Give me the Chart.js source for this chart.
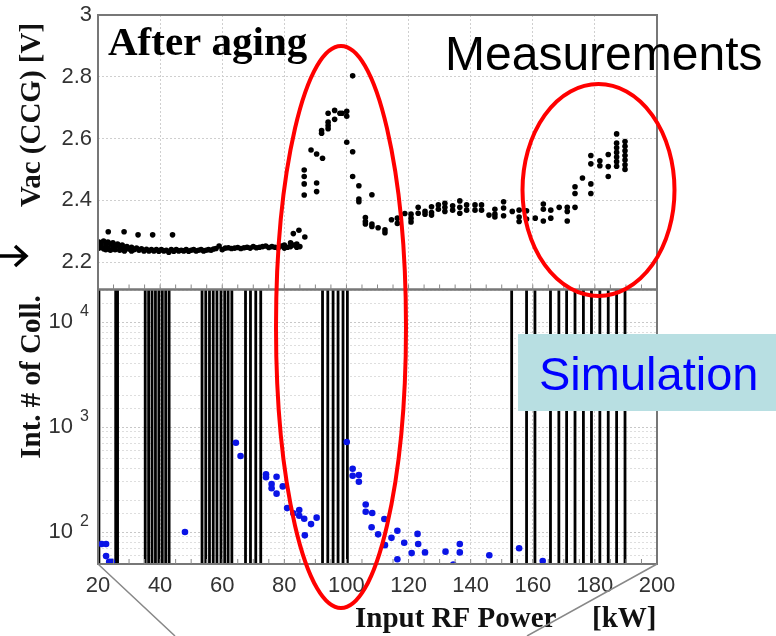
<!DOCTYPE html>
<html>
<head>
<meta charset="utf-8">
<script src="https://cdn.jsdelivr.net/npm/chart.js@4.4.1/dist/chart.umd.min.js"></script>
<style>
  html, body { margin: 0; padding: 0; background: #fff; }
  #wrap { position: relative; width: 776px; height: 636px; }
</style>
</head>
<body>
<div id="wrap"><canvas id="chart_vacAndCollisions" width="776" height="636"></canvas></div>
<script>
// measured vacuum (CCG) vs input RF power
var vacPower = [
  20.3, 20.3, 21.0, 21.0, 21.8, 21.8, 22.5, 22.5, 23.2, 23.2, 23.3, 24.0, 24.0, 24.8, 24.8,
  25.5, 25.5, 26.3, 27.0, 27.0, 27.8, 28.4, 28.5, 28.5, 29.3, 30.0, 30.8, 30.8, 31.6, 32.4,
  32.9, 33.2, 34.0, 34.8, 35.6, 36.4, 37.2, 37.6, 38.0, 38.8, 39.6, 40.4, 41.2, 42.0, 42.8,
  43.6, 44.0, 44.4, 45.2, 46.0, 46.8, 47.6, 48.4, 49.2, 50.0, 50.8, 51.6, 52.4, 53.2, 54.0,
  54.8, 55.6, 56.4, 57.2, 58.0, 59.0, 60.0, 61.0, 62.0, 63.0, 64.0, 65.0, 66.0, 67.0, 68.0,
  69.0, 70.0, 71.0, 72.0, 73.0, 74.0, 75.0, 76.0, 77.0, 78.0, 79.0, 80.0, 80.0, 81.0, 82.0,
  82.0, 82.9, 83.0, 84.0, 84.0, 84.7, 85.0, 86.6,
  86.4, 86.4, 86.4, 86.4, 88.6, 90.4, 90.4, 90.4, 92.0, 92.0, 92.3, 94.1, 94.1, 94.1, 94.1,
  96.2, 96.2, 97.9, 98.6, 100.1, 100.1, 100.1, 102.0, 102.0, 102.0, 104.0, 104.0, 104.0,
  106.1, 106.1, 106.1, 108.2, 108.2, 108.2, 110.2, 112.4, 112.4, 114.5, 116.4, 116.4, 118.8,
  120.8, 120.8, 120.8, 123.1, 123.1, 125.3, 125.3, 127.4, 127.4, 127.4, 129.6, 129.6,
  131.7, 131.7, 131.7, 134.2, 134.2, 136.5, 136.5, 136.5, 138.7, 138.7, 141.4, 141.4,
  143.5, 143.5, 145.9, 147.8, 147.8, 147.8, 150.6, 150.6, 150.6, 153.4, 155.6, 155.6, 155.6,
  158.0, 158.0, 160.8, 163.4, 163.4, 163.4, 165.8, 165.8, 168.5, 171.1, 171.1, 171.1,
  173.6, 173.6, 173.6, 176.0, 178.7, 178.7, 178.7, 178.7, 181.6, 181.6, 184.3, 184.3, 184.3,
  187.0, 187.0, 187.0, 187.0, 187.0, 187.0, 187.0,
  189.7, 189.7, 189.7, 189.7, 189.7, 189.7, 189.7
];
var vacValues = [
  2.265, 2.245, 2.262, 2.250, 2.268, 2.243, 2.255, 2.240, 2.265, 2.245, 2.298, 2.258, 2.238, 2.262, 2.245,
  2.250, 2.240, 2.258, 2.248, 2.238, 2.255, 2.298, 2.245, 2.236, 2.250, 2.242, 2.248, 2.236, 2.240, 2.245,
  2.288, 2.238, 2.243, 2.236, 2.241, 2.236, 2.240, 2.288, 2.236, 2.240, 2.235, 2.240, 2.236, 2.238, 2.232,
  2.240, 2.288, 2.235, 2.240, 2.236, 2.238, 2.236, 2.240, 2.235, 2.238, 2.240, 2.236, 2.238, 2.240, 2.236,
  2.238, 2.240, 2.238, 2.242, 2.244, 2.252, 2.240, 2.245, 2.246, 2.244, 2.245, 2.247, 2.244, 2.246, 2.248,
  2.245, 2.250, 2.246, 2.248, 2.250, 2.252, 2.247, 2.250, 2.248, 2.245, 2.252, 2.255, 2.245, 2.248, 2.262,
  2.250, 2.292, 2.255, 2.258, 2.248, 2.303, 2.250, 2.281,
  2.498, 2.477, 2.453, 2.417, 2.563, 2.550, 2.456, 2.428, 2.626, 2.617, 2.536, 2.682, 2.653, 2.642, 2.632,
  2.691, 2.662, 2.682, 2.682, 2.688, 2.672, 2.588, 2.803, 2.557, 2.477, 2.447, 2.404, 2.395,
  2.344, 2.331, 2.323, 2.418, 2.323, 2.315, 2.311, 2.304, 2.295, 2.337, 2.342, 2.325, 2.357,
  2.355, 2.342, 2.330, 2.377, 2.358, 2.364, 2.355, 2.379, 2.360, 2.352, 2.385, 2.371,
  2.390, 2.377, 2.364, 2.382, 2.368, 2.398, 2.377, 2.358, 2.385, 2.368, 2.385, 2.368,
  2.385, 2.368, 2.352, 2.371, 2.355, 2.346, 2.395, 2.375, 2.350, 2.364, 2.368, 2.346, 2.331,
  2.366, 2.339, 2.342, 2.388, 2.371, 2.333, 2.368, 2.342, 2.377, 2.377, 2.364, 2.333,
  2.444, 2.422, 2.377, 2.472, 2.545, 2.518, 2.453, 2.422, 2.528, 2.512, 2.548, 2.509, 2.477,
  2.615, 2.585, 2.570, 2.555, 2.540, 2.525, 2.510,
  2.590, 2.575, 2.560, 2.545, 2.530, 2.515, 2.500
];

// simulated integrated number of collisions
var collPower = [
  21.2, 22.6, 22.6, 23.6, 24.5, 48.0, 64.4, 65.9, 74.1, 74.1, 75.9, 75.9, 77.5, 77.5, 79.5,
  80.9, 82.9, 84.8, 84.8, 86.4, 86.6, 88.6, 90.4, 100.1, 102.0, 102.0, 104.0, 104.0, 106.2,
  106.2, 108.3, 108.1, 110.2, 112.2, 112.4, 114.5, 116.4, 116.4, 118.6, 121.0, 122.9, 123.1,
  125.3, 131.9, 134.4, 136.5, 136.5, 146.0, 155.6, 163.2
];
var collValues = [
  77, 77, 59, 52, 52, 100, 708, 530, 355, 333, 286, 261, 232, 336, 272,
  169, 151, 162, 143, 134, 93, 119, 137, 719, 401, 344, 349, 301, 183,
  156, 152, 111, 95, 133, 75, 88, 103, 55, 79, 63, 96, 77,
  64, 65, 49, 77, 64, 60, 70, 53
];

// power levels where the simulation finds resonant multipactor (vertical bars)
var multipactorPower = [
  20.3, 25.7, 26.3,
  35.2, 36.3, 37.4, 38.5, 39.6, 40.7, 41.8, 42.9,
  53.5, 54.7, 55.9, 57.1, 58.3, 59.6, 60.8, 61.9, 63.1,
  67.5, 69.1, 70.8, 72.4,
  92.3, 94.0, 95.7, 97.3, 98.9, 100.3,
  153.2, 158.0, 160.7, 165.7, 168.4, 170.9, 173.6, 176.3, 178.9, 181.6, 184.3, 187.0, 189.7
];

var powerTicks = [20, 40, 60, 80, 100, 120, 140, 160, 180, 200];
var vacTicks = [2.2, 2.4, 2.6, 2.8, 3];
var collDecades = [100, 1000, 10000];

var VAC_MIN = 2.111, VAC_MAX = 3;
var COLL_MIN = 49.6, COLL_MAX = 20400;

var sans = '"Liberation Sans", Arial, sans-serif';
var serif = '"Liberation Serif", "Times New Roman", serif';

var barData = [];
multipactorPower.forEach(function (p) {
  barData.push({ x: p, y: COLL_MIN }, { x: p, y: COLL_MAX }, { x: p, y: null });
});

// keep the plot box fixed: no extra room for label overflow
function noPad(s) {
  s.paddingTop = 0; s.paddingBottom = 0; s.paddingLeft = 0; s.paddingRight = 0;
}

var chart_vacAndCollisions = new Chart(document.getElementById('chart_vacAndCollisions'), {
  type: 'scatter',
  data: {
    datasets: [
      {
        label: 'Multipactor bands',
        type: 'line',
        yAxisID: 'yBot',
        data: barData,
        borderColor: '#000',
        borderWidth: 2.8,
        pointRadius: 0,
        spanGaps: false,
        order: 3
      },
      {
        label: 'Int. # of Coll.',
        yAxisID: 'yBot',
        data: collPower.map(function (p, i) { return { x: p, y: collValues[i] }; }),
        backgroundColor: '#0a14e6',
        borderWidth: 0,
        pointRadius: 3.3,
        order: 2
      },
      {
        label: 'Vac (CCG)',
        yAxisID: 'yTop',
        data: vacPower.map(function (p, i) { return { x: p, y: vacValues[i] }; }),
        backgroundColor: '#000',
        borderWidth: 0,
        pointRadius: 2.8,
        order: 1
      }
    ]
  },
  options: {
    animation: false,
    responsive: false,
    devicePixelRatio: 1,
    layout: { padding: { left: 0, top: 15, right: 119, bottom: 0 } },
    plugins: {
      legend: { display: false },
      tooltip: { enabled: false }
    },
    scales: {
      x: {
        type: 'linear',
        min: 20,
        max: 200,
        afterBuildTicks: function (s) { s.ticks = powerTicks.map(function (v) { return { value: v }; }); },
        afterFit: function (s) { s.height = 72; noPad(s); },
        ticks: { font: { family: sans, size: 22 }, color: '#333', padding: 9, maxRotation: 0 },
        grid: { color: '#cfcfcf', lineWidth: 1, drawTicks: false },
        border: { display: false, dash: [2, 2] }
      },
      // stacked scales are placed bottom-up in the order given
      yBot: {
        type: 'logarithmic',
        position: 'left',
        stack: 'plots',
        stackWeight: 1,
        min: COLL_MIN,
        max: COLL_MAX,
        afterFit: function (s) { s.width = 98; noPad(s); },
        ticks: {
          font: { family: sans, size: 22 },
          color: '#333',
          padding: 25,
          autoSkip: false,
          callback: function (value) {
            return collDecades.indexOf(value) >= 0 ? '10' : '';
          }
        },
        grid: {
          color: function (c) { return collDecades.indexOf(c.tick && c.tick.value) >= 0 ? '#c8c8c8' : '#dedede'; },
          lineWidth: 1,
          drawTicks: false
        },
        border: { display: false, dash: [2, 2] }
      },
      yTop: {
        type: 'linear',
        position: 'left',
        stack: 'plots',
        stackWeight: 1,
        min: VAC_MIN,
        max: VAC_MAX,
        afterBuildTicks: function (s) { s.ticks = vacTicks.map(function (v) { return { value: v }; }); },
        afterFit: function (s) { s.width = 98; noPad(s); },
        ticks: {
          font: { family: sans, size: 22 },
          color: '#333',
          padding: 6,
          callback: function (value) { return String(Math.round(value * 10) / 10); }
        },
        grid: { color: '#cfcfcf', lineWidth: 1, drawTicks: false },
        border: { display: false, dash: [2, 2] }
      }
    }
  },
  plugins: [{
    id: 'slideDecorations',
    beforeDraw: function (chart) {
      var ctx = chart.ctx;
      ctx.save();
      ctx.fillStyle = 'white';
      ctx.fillRect(0, 0, chart.width, chart.height);
      ctx.restore();
    },
    afterDraw: function (chart) {
      var ctx = chart.ctx;
      var x = chart.scales.x, yTop = chart.scales.yTop, yBot = chart.scales.yBot;
      ctx.save();

      // plot frames
      ctx.strokeStyle = '#777';
      ctx.lineWidth = 2;
      ctx.strokeRect(x.left, yTop.top, x.right - x.left, yTop.bottom - yTop.top);
      ctx.strokeRect(x.left, yBot.top, x.right - x.left, yBot.bottom - yBot.top);

      // minor ticks every 5 kW
      ctx.lineWidth = 1;
      ctx.strokeStyle = '#888';
      for (var p = 25; p < 200; p += 5) {
        var px = x.getPixelForValue(p);
        ctx.beginPath();
        ctx.moveTo(px, yTop.bottom); ctx.lineTo(px, yTop.bottom - 5);
        ctx.moveTo(px, yBot.bottom); ctx.lineTo(px, yBot.bottom - 5);
        ctx.stroke();
      }

      // exponents of the log labels
      ctx.fillStyle = '#333';
      ctx.font = '16px ' + sans;
      ctx.textAlign = 'left';
      ctx.textBaseline = 'middle';
      collDecades.forEach(function (v) {
        ctx.fillText(String(Math.round(Math.log10(v))), 80, yBot.getPixelForValue(v) - 10);
      });

      // axis titles
      ctx.fillStyle = '#111';
      ctx.font = 'bold 29px ' + serif;
      ctx.textAlign = 'center';
      ctx.save();
      ctx.translate(33, 115);
      ctx.rotate(-Math.PI / 2);
      ctx.fillText('Vac (CCG) [V]', 0, 0);
      ctx.restore();
      ctx.save();
      ctx.translate(33, 377);
      ctx.rotate(-Math.PI / 2);
      ctx.fillText('Int. # of Coll.', 0, 0);
      ctx.restore();
      ctx.textAlign = 'left';
      ctx.textBaseline = 'alphabetic';
      ctx.font = 'bold 29px ' + serif;
      ctx.fillText('Input RF Power', 355, 627);
      ctx.fillText('[kW]', 592, 627);

      // labels on the slide
      ctx.fillStyle = '#000';
      ctx.font = 'bold 41px ' + serif;
      ctx.fillText('After aging', 108, 55);
      ctx.font = '48px ' + sans;
      ctx.fillText('Measurements', 445, 70);

      ctx.fillStyle = '#b8dfe2';
      ctx.fillRect(518, 334, 258, 77);
      ctx.fillStyle = '#0000ff';
      ctx.font = '47px ' + sans;
      ctx.fillText('Simulation', 539, 390);

      // red ellipses
      ctx.strokeStyle = '#ff0000';
      ctx.lineWidth = 4;
      ctx.beginPath();
      ctx.ellipse(341, 327, 65, 281, 0, 0, Math.PI * 2);
      ctx.stroke();
      ctx.beginPath();
      ctx.ellipse(598.5, 190, 76, 106, 0, 0, Math.PI * 2);
      ctx.stroke();

      // arrow at 2.25 V
      ctx.strokeStyle = '#000';
      ctx.lineWidth = 3.5;
      ctx.beginPath();
      ctx.moveTo(0, 256); ctx.lineTo(25, 256);
      ctx.moveTo(15, 246); ctx.lineTo(26, 256); ctx.lineTo(15, 266);
      ctx.stroke();

      // zoom guide lines
      ctx.strokeStyle = '#888';
      ctx.lineWidth = 1.5;
      ctx.beginPath();
      ctx.moveTo(x.left, yBot.bottom); ctx.lineTo(175, 636);
      ctx.moveTo(x.right, yBot.bottom); ctx.lineTo(527, 636);
      ctx.stroke();

      ctx.restore();
    }
  }]
});
</script>
</body>
</html>
